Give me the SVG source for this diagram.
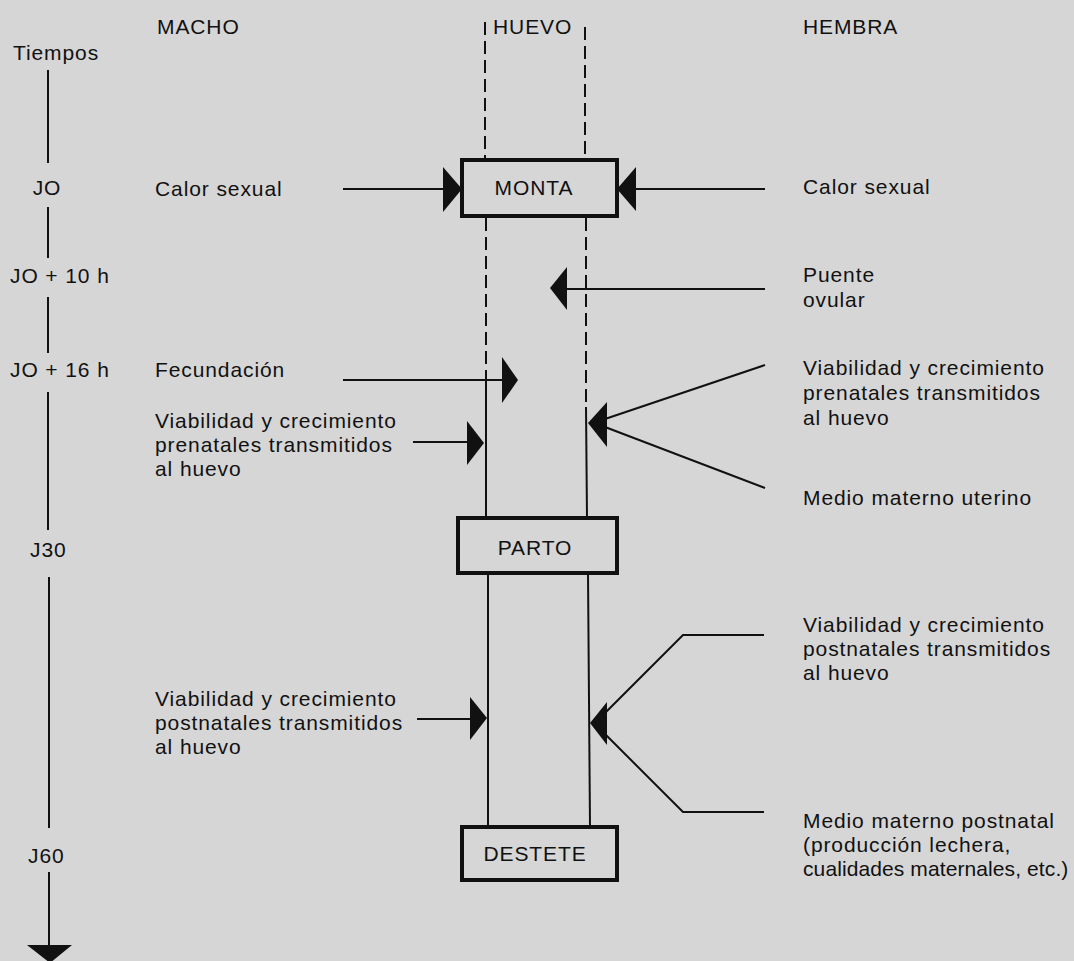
<svg xmlns="http://www.w3.org/2000/svg" width="1074" height="961" viewBox="0 0 1074 961">
<style>
text{font-family:"Liberation Sans",Arial,Helvetica,sans-serif;font-size:21px;letter-spacing:0.9px;fill:#111}
.tight{letter-spacing:0.1px}
.ln{stroke:#111;stroke-width:2;fill:none}
.dash{stroke:#111;stroke-width:2;fill:none;stroke-dasharray:13 6}
.box{fill:#d6d6d6;stroke:#111;stroke-width:4}
.ah{fill:#111}
.mid{text-anchor:middle}
</style>
<rect width="1074" height="961" fill="#d6d6d6"/>

<g id="headers">
<text x="157" y="34">MACHO</text>
<text x="493" y="34">HUEVO</text>
<text x="803" y="34">HEMBRA</text>
</g>

<g id="time-axis">
<text x="13" y="60">Tiempos</text>
<line class="ln" x1="48" y1="70" x2="48" y2="163"/>
<text x="47" y="195" class="mid">JO</text>
<line class="ln" x1="48" y1="207" x2="48" y2="258"/>
<text x="10" y="283">JO + 10 h</text>
<line class="ln" x1="48" y1="297" x2="48" y2="353"/>
<text x="10" y="377">JO + 16 h</text>
<line class="ln" x1="48" y1="392" x2="48" y2="530"/>
<text x="30" y="557">J30</text>
<line class="ln" x1="49" y1="577" x2="49" y2="828"/>
<text x="28" y="863">J60</text>
<line class="ln" x1="49" y1="872" x2="49" y2="946"/>
<polygon class="ah" points="27,945 72,945 50,963"/>
</g>

<g id="connectors">
<line class="dash" x1="485" y1="22" x2="485" y2="160"/>
<line class="dash" x1="585" y1="27" x2="585" y2="160"/>
<line class="dash" x1="486" y1="218" x2="486" y2="378"/>
<line class="ln" x1="486" y1="378" x2="486" y2="518"/>
<line class="dash" x1="586" y1="218" x2="586" y2="407"/>
<line class="ln" x1="586" y1="407" x2="587" y2="518"/>
<line class="ln" x1="488" y1="573" x2="488" y2="827"/>
<line class="ln" x1="588" y1="573" x2="590" y2="827"/>

<line class="ln" x1="343" y1="189" x2="445" y2="189"/>
<polygon class="ah" points="443,167 462,189 443,212"/>
<line class="ln" x1="634" y1="189" x2="765" y2="189"/>
<polygon class="ah" points="636,167 617,189 636,211"/>

<line class="ln" x1="565" y1="289" x2="765" y2="289"/>
<polygon class="ah" points="567,267 550,288 567,310"/>

<line class="ln" x1="343" y1="380" x2="504" y2="380"/>
<polygon class="ah" points="502,357 518,380 502,403"/>

<line class="ln" x1="413" y1="442" x2="469" y2="442"/>
<polygon class="ah" points="467,421 484,443 467,465"/>

<line class="ln" x1="765" y1="365" x2="605" y2="419"/>
<line class="ln" x1="765" y1="488" x2="605" y2="427"/>
<polygon class="ah" points="607,402 588,423 607,447"/>

<line class="ln" x1="417" y1="719" x2="472" y2="719"/>
<polygon class="ah" points="470,697 487,718 470,740"/>

<polyline class="ln" points="764,635 683,635 605,713"/>
<polyline class="ln" points="764,812 683,812 605,734"/>
<polygon class="ah" points="607,702 590,723 607,745"/>
</g>

<g id="monta">
<rect class="box" x="462" y="160" width="155" height="56"/>
<text x="534" y="195" class="mid">MONTA</text>
</g>
<g id="parto">
<rect class="box" x="458" y="518" width="159" height="55"/>
<text x="535" y="555" class="mid">PARTO</text>
</g>
<g id="destete">
<rect class="box" x="462" y="827" width="155" height="53"/>
<text x="535" y="861" class="mid">DESTETE</text>
</g>

<g id="macho-calor"><text x="155" y="196">Calor sexual</text></g>
<g id="macho-fecundacion"><text x="155" y="377">Fecundación</text></g>
<g id="macho-prenatal">
<text x="155" y="428">Viabilidad y crecimiento</text>
<text x="155" y="452">prenatales transmitidos</text>
<text x="155" y="476">al huevo</text>
</g>
<g id="macho-postnatal">
<text x="155" y="706">Viabilidad y crecimiento</text>
<text x="155" y="730">postnatales transmitidos</text>
<text x="155" y="754">al huevo</text>
</g>

<g id="hembra-calor"><text x="803" y="194">Calor sexual</text></g>
<g id="hembra-puente">
<text x="803" y="282">Puente</text>
<text x="803" y="307">ovular</text>
</g>
<g id="hembra-prenatal">
<text x="803" y="375">Viabilidad y crecimiento</text>
<text x="803" y="400">prenatales transmitidos</text>
<text x="803" y="425">al huevo</text>
</g>
<g id="hembra-uterino"><text x="803" y="505">Medio materno uterino</text></g>
<g id="hembra-postnatal">
<text x="803" y="632">Viabilidad y crecimiento</text>
<text x="803" y="656">postnatales transmitidos</text>
<text x="803" y="680">al huevo</text>
</g>
<g id="hembra-postnatal-medio">
<text x="803" y="828">Medio materno postnatal</text>
<text x="803" y="852">(producción lechera,</text>
<text x="803" y="876" class="tight">cualidades maternales, etc.)</text>
</g>
</svg>
